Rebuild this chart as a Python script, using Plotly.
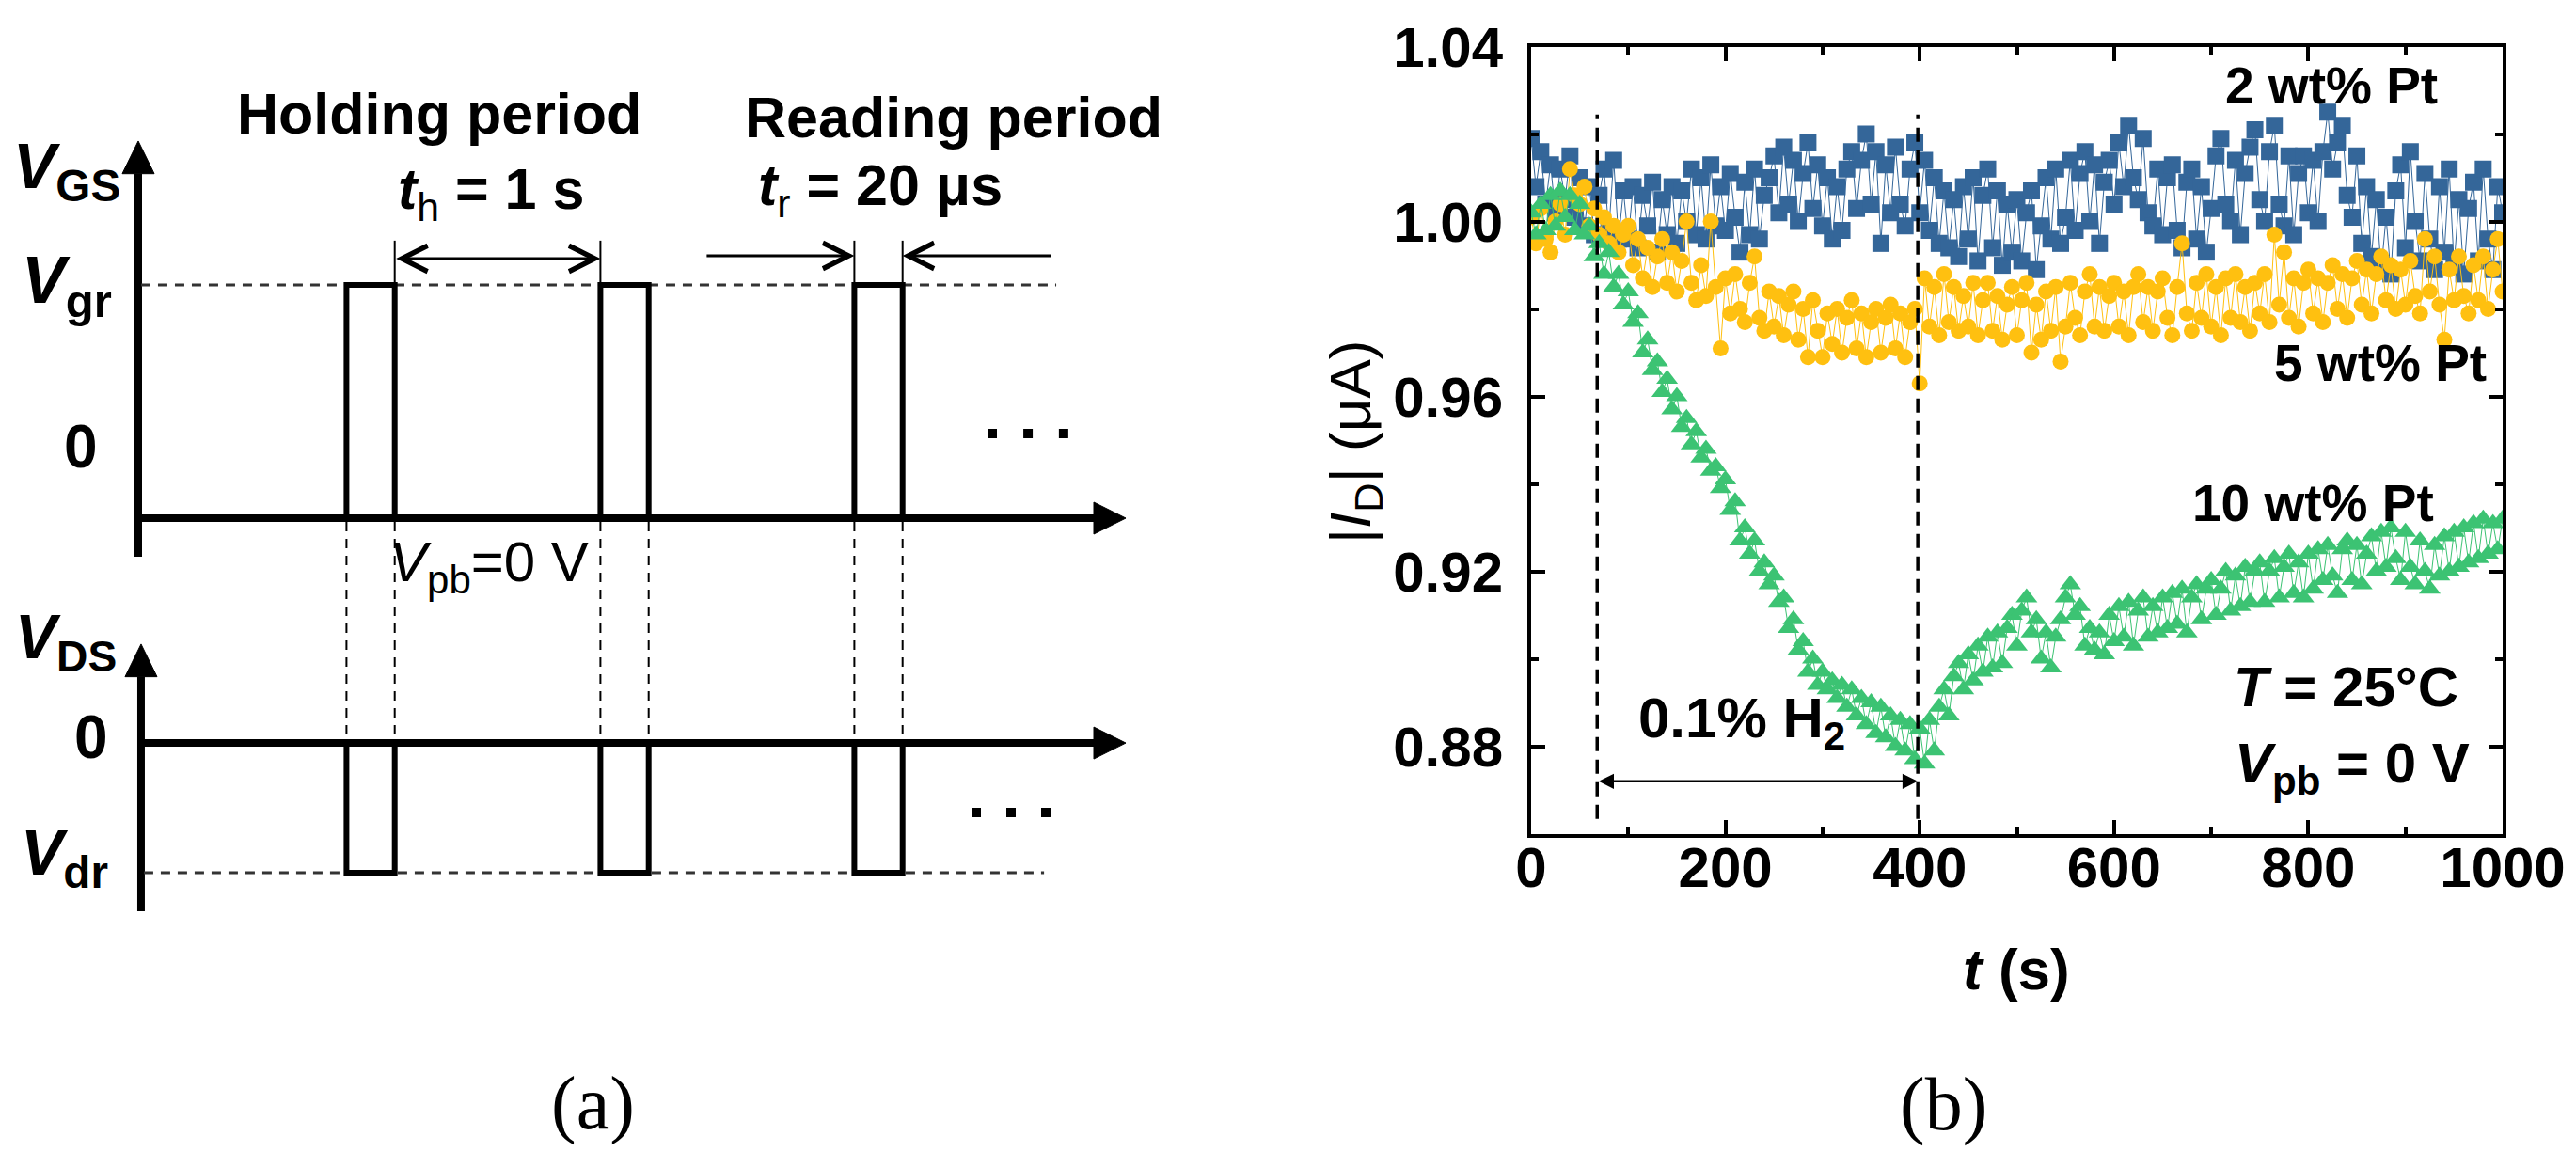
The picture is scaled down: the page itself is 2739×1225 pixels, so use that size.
import plotly.graph_objects as go

# ---------------- Panel (b) data ----------------
T_S = list(range(0, 1001, 5))  # time (s)

ID_2WT = [
    1.019, 1.008, 1.016, 1.004, 1.013, 1.002, 1.012, 1.005, 1.015, 1.001,
    1.010, 0.999, 1.008, 0.997, 1.006, 1.012, 0.998, 1.014, 0.996, 1.007,
    0.996, 1.008, 0.994, 1.006, 0.999, 1.009, 0.993, 1.005, 0.997, 1.008,
    0.995, 1.007, 1.000, 1.012, 0.997, 1.010, 0.996, 1.013, 0.999, 1.008,
    0.998, 1.011, 1.001, 0.993, 1.009, 0.997, 1.012, 0.996, 1.006, 1.010,
    1.015, 1.002, 1.017, 1.004, 1.014, 1.000, 1.011, 1.018, 1.003, 1.013,
    0.999, 1.010, 0.996, 1.008, 0.998, 1.012, 1.016, 1.003, 1.014, 1.020,
    1.004, 1.016, 0.995, 1.013, 1.002, 1.017, 1.004, 0.999, 1.012, 1.018,
    1.002, 1.014, 0.998, 1.010, 0.995, 1.007, 0.994, 1.005, 0.992, 1.008,
    0.996, 1.010, 0.991, 1.006, 1.012, 0.994, 1.007, 0.990, 1.004, 0.993,
    1.005, 0.991, 1.002, 1.007, 0.989, 0.999, 1.010, 0.996, 1.012, 0.995,
    1.001, 1.014, 0.998, 1.011, 1.016, 1.000, 1.013, 0.995, 1.009, 1.014,
    1.004, 1.018, 1.008, 1.022, 1.010, 1.005, 1.019, 1.002, 0.999, 1.012,
    0.997, 1.010, 1.013, 0.998, 0.994, 1.009, 1.012, 0.996, 1.008, 0.993,
    1.003, 1.015, 1.019, 1.004, 1.000, 1.014, 0.997, 1.011, 1.017, 1.021,
    1.005, 1.000, 1.016, 1.022, 1.004, 0.999, 1.015, 0.997, 1.011, 1.015,
    1.002, 1.014, 1.000, 1.016, 1.025, 1.012, 1.018, 1.022, 1.006, 1.001,
    1.015, 0.995, 1.008, 0.992, 1.005, 0.989, 1.001, 0.988, 1.007, 1.013,
    0.994, 1.016, 1.000, 0.991, 1.011, 0.996, 0.989, 1.008, 0.993, 1.012,
    0.990, 1.005, 0.988, 1.003, 1.009, 0.991, 1.012, 0.996, 0.989, 1.008,
    1.002,
]

ID_5WT = [
    1.001, 0.995, 1.003, 0.996, 0.993, 1.000, 1.004, 0.997, 1.012, 1.006,
    1.004, 1.008, 0.999, 1.003, 0.997, 1.001, 0.995, 0.999, 0.993, 0.997,
    0.999, 0.990, 0.996, 0.987, 0.994, 0.985, 0.992, 0.996, 0.986, 0.993,
    0.984, 0.991, 1.000, 0.986, 0.982, 0.990, 0.983, 1.000, 0.985, 0.971,
    0.987, 0.979, 0.988, 0.980, 0.977, 0.986, 0.992, 0.978, 0.975, 0.984,
    0.976, 0.983, 0.974, 0.981, 0.984, 0.973, 0.980, 0.969, 0.982, 0.975,
    0.969, 0.979, 0.972, 0.980, 0.970, 0.978, 0.982, 0.971, 0.979, 0.969,
    0.977, 0.980, 0.970, 0.978, 0.981, 0.971, 0.979, 0.969, 0.977, 0.980,
    0.963, 0.987, 0.976, 0.985, 0.974, 0.988, 0.977, 0.985, 0.975, 0.983,
    0.976, 0.986, 0.974, 0.982, 0.986, 0.975, 0.983, 0.973, 0.981, 0.985,
    0.974, 0.982, 0.986, 0.970, 0.981, 0.973, 0.984, 0.975, 0.985, 0.968,
    0.976, 0.986, 0.978, 0.974, 0.984, 0.988, 0.976, 0.985, 0.975, 0.983,
    0.986, 0.976, 0.984, 0.974, 0.985, 0.988, 0.977, 0.985, 0.975, 0.984,
    0.987, 0.978, 0.974, 0.985, 0.995, 0.979, 0.975, 0.986, 0.978, 0.988,
    0.976, 0.985, 0.974, 0.987, 0.978, 0.988, 0.977, 0.985, 0.975, 0.986,
    0.979, 0.988, 0.977, 0.997, 0.981, 0.993, 0.978, 0.987, 0.976, 0.986,
    0.989, 0.979, 0.987, 0.977, 0.986, 0.990, 0.980, 0.988, 0.978, 0.987,
    0.991, 0.981, 0.989, 0.979, 0.988, 0.992, 0.982, 0.990, 0.980, 0.989,
    0.981, 0.991, 0.983, 0.979, 0.996, 0.984, 0.992, 0.981, 0.973, 0.989,
    0.982, 0.992, 0.983, 0.979, 0.990, 0.982, 0.992, 0.980, 0.989, 0.996,
    0.984,
]

ID_10WT = [
    1.002, 0.997, 1.004, 0.998, 1.006, 0.999, 1.007, 1.001, 1.006, 0.998,
    1.004, 0.997, 0.999, 0.992, 0.995, 0.988, 0.993, 0.985, 0.988, 0.981,
    0.984, 0.977, 0.979, 0.970, 0.973, 0.966, 0.968, 0.961, 0.964, 0.957,
    0.960, 0.953, 0.955, 0.949, 0.952, 0.946, 0.948, 0.943, 0.944, 0.939,
    0.941, 0.934, 0.936, 0.927, 0.930, 0.924, 0.927, 0.920, 0.922, 0.917,
    0.919, 0.913, 0.914, 0.907, 0.909, 0.902, 0.904, 0.897, 0.900, 0.894,
    0.897, 0.893, 0.895, 0.891, 0.894, 0.889, 0.893, 0.887, 0.891, 0.885,
    0.890, 0.883, 0.889, 0.882, 0.887, 0.880, 0.886, 0.879, 0.885, 0.877,
    0.884, 0.876, 0.886, 0.879, 0.889, 0.893, 0.887, 0.896, 0.899, 0.893,
    0.901, 0.895, 0.903, 0.897, 0.905, 0.898, 0.906, 0.899, 0.907, 0.910,
    0.903, 0.911, 0.914, 0.906, 0.909, 0.900, 0.906, 0.898, 0.905, 0.909,
    0.914, 0.917, 0.910, 0.912, 0.903, 0.907, 0.902, 0.906, 0.901, 0.910,
    0.904, 0.912, 0.905, 0.913, 0.903, 0.911, 0.914, 0.905, 0.912, 0.906,
    0.914, 0.907, 0.915, 0.908, 0.916, 0.906, 0.914, 0.917, 0.909, 0.916,
    0.918, 0.910, 0.916, 0.920, 0.911, 0.919, 0.912, 0.921, 0.913, 0.920,
    0.922, 0.913, 0.920, 0.923, 0.914, 0.921, 0.924, 0.915, 0.922, 0.914,
    0.924, 0.916, 0.925, 0.918, 0.926, 0.919, 0.915, 0.925, 0.927, 0.918,
    0.926, 0.917, 0.924, 0.928, 0.920, 0.929, 0.921, 0.930, 0.923, 0.918,
    0.929, 0.921, 0.917, 0.927, 0.920, 0.916, 0.926, 0.919, 0.928, 0.920,
    0.929, 0.921, 0.930, 0.922, 0.931, 0.923, 0.932, 0.924, 0.931, 0.925,
    0.932,
]

SERIES_LABELS = ["2 wt% Pt", "5 wt% Pt", "10 wt% Pt"]
H2_ON_S = 68
H2_OFF_S = 398
H2_GUIDE_Y = [0.8634, 1.0245]
H2_ARROW_Y = 0.872
X_TICKS = [0, 200, 400, 600, 800, 1000]
Y_TICKS = [0.88, 0.92, 0.96, 1.00, 1.04]

# ---------------- Panel (a) schematic data (arbitrary units) ----------------
PULSE_T0 = [0.82, 1.82, 2.82]      # pulse start (period th = 1)
PULSE_W = 0.19                      # drawn pulse width
VGS_BASE, VGS_HIGH = 0.0, 1.0       # 0 and Vgr levels
VDS_BASE, VDS_LOW = -0.964, -1.52   # 0 and Vdr levels
VGS_AXIS_T, VDS_AXIS_T = 0.0, 0.011
VGS_AXIS_Y = [-0.165, 1.617]
VDS_AXIS_Y = [-1.685, -0.540]
TIME_AXIS_END = 3.889
VGR_DASH_T = [0.011, 3.615]
VDR_DASH_T = [0.022, 3.567]
UPPER_DOTS_T, UPPER_DOTS_Y = [3.363, 3.504, 3.644], 0.363
LOWER_DOTS_T, LOWER_DOTS_Y = [3.30, 3.437, 3.574], -1.262

FONT = "Liberation Sans, Arial, sans-serif"
SERIF = "Liberation Serif, Times New Roman, serif"
BLUE, YELLOW, GREEN = "#346699", "#FFC010", "#3CC373"

W, H = 2739, 1225
fig = go.Figure()

# ---------- panel (b) traces ----------
for vals, color, sym, size in [
    (ID_2WT, BLUE, "square", 18),
    (ID_5WT, YELLOW, "circle", 17),
    (ID_10WT, GREEN, "triangle-up", 20),
]:
    fig.add_trace(go.Scatter(
        x=T_S, y=vals, mode="lines+markers",
        line=dict(color=color, width=1),
        marker=dict(symbol=sym, size=size, color=color, line=dict(width=0)),
        xaxis="x", yaxis="y", showlegend=False, hoverinfo="skip"))

for tx in (H2_ON_S, H2_OFF_S):
    fig.add_trace(go.Scatter(
        x=[tx, tx], y=H2_GUIDE_Y, mode="lines",
        line=dict(color="black", width=3.5, dash="15px,9px"),
        xaxis="x", yaxis="y", showlegend=False, hoverinfo="skip"))

# ---------- panel (a) traces ----------
def seg(x, y, width, dash=None, color="black"):
    fig.add_trace(go.Scatter(
        x=x, y=y, mode="lines",
        line=dict(color=color, width=width, dash=dash),
        xaxis="x2", yaxis="y2", showlegend=False, hoverinfo="skip"))

def tri(x, y):
    fig.add_trace(go.Scatter(
        x=x, y=y, mode="lines", fill="toself", fillcolor="black",
        line=dict(color="black", width=1),
        xaxis="x2", yaxis="y2", showlegend=False, hoverinfo="skip"))

HEAD_T, HEAD_V = 0.063, 0.0685   # arrowhead half widths
HEAD_LT, HEAD_LV = 0.126, 0.14    # arrowhead lengths

seg([VGS_AXIS_T, VGS_AXIS_T], [VGS_AXIS_Y[0], VGS_AXIS_Y[1] - HEAD_LV], 8)
tri([VGS_AXIS_T - HEAD_T, VGS_AXIS_T + HEAD_T, VGS_AXIS_T, VGS_AXIS_T - HEAD_T],
    [VGS_AXIS_Y[1] - HEAD_LV, VGS_AXIS_Y[1] - HEAD_LV, VGS_AXIS_Y[1], VGS_AXIS_Y[1] - HEAD_LV])
seg([VGS_AXIS_T, TIME_AXIS_END - HEAD_LT], [VGS_BASE, VGS_BASE], 8)
tri([TIME_AXIS_END - HEAD_LT, TIME_AXIS_END - HEAD_LT, TIME_AXIS_END, TIME_AXIS_END - HEAD_LT],
    [VGS_BASE - HEAD_V, VGS_BASE + HEAD_V, VGS_BASE, VGS_BASE - HEAD_V])
seg([VDS_AXIS_T, VDS_AXIS_T], [VDS_AXIS_Y[0], VDS_AXIS_Y[1] - HEAD_LV], 8)
tri([VDS_AXIS_T - HEAD_T, VDS_AXIS_T + HEAD_T, VDS_AXIS_T, VDS_AXIS_T - HEAD_T],
    [VDS_AXIS_Y[1] - HEAD_LV, VDS_AXIS_Y[1] - HEAD_LV, VDS_AXIS_Y[1], VDS_AXIS_Y[1] - HEAD_LV])
seg([VDS_AXIS_T, TIME_AXIS_END - HEAD_LT], [VDS_BASE, VDS_BASE], 8)
tri([TIME_AXIS_END - HEAD_LT, TIME_AXIS_END - HEAD_LT, TIME_AXIS_END, TIME_AXIS_END - HEAD_LT],
    [VDS_BASE - HEAD_V, VDS_BASE + HEAD_V, VDS_BASE, VDS_BASE - HEAD_V])

seg(VGR_DASH_T, [VGS_HIGH, VGS_HIGH], 3, dash="10px,8px", color="#333333")
seg(VDR_DASH_T, [VDS_LOW, VDS_LOW], 3, dash="10px,8px", color="#333333")

for p in PULSE_T0:
    seg([p, p, p + PULSE_W, p + PULSE_W], [VGS_BASE, VGS_HIGH, VGS_HIGH, VGS_BASE], 6)
    seg([p, p, p + PULSE_W, p + PULSE_W], [VDS_BASE, VDS_LOW, VDS_LOW, VDS_BASE], 6)
    for e in (p, p + PULSE_W):
        seg([e, e], [VGS_BASE - 0.016, VDS_BASE], 2, dash="10px,8px")

for e in (PULSE_T0[0] + PULSE_W, PULSE_T0[1], PULSE_T0[2], PULSE_T0[2] + PULSE_W):
    seg([e, e], [VGS_HIGH, 1.19], 2)

for dt, dy in ((UPPER_DOTS_T, UPPER_DOTS_Y), (LOWER_DOTS_T, LOWER_DOTS_Y)):
    fig.add_trace(go.Scatter(
        x=dt, y=[dy] * len(dt), mode="markers",
        marker=dict(symbol="square", size=10, color="black"),
        xaxis="x2", yaxis="y2", showlegend=False, hoverinfo="skip"))

# ---------- annotations ----------
def ann(text, x, y, size, xref="x2", yref="y2", family=FONT, angle=0,
        xanchor="center", yanchor="middle"):
    fig.add_annotation(text=text, x=x, y=y, xref=xref, yref=yref,
                       showarrow=False, textangle=angle,
                       xanchor=xanchor, yanchor=yanchor,
                       font=dict(family=family, size=size, color="black"))

def arrow(x, y, ax, ay, xref, yref, head, width, size, both=False):
    fig.add_annotation(x=x, y=y, ax=ax, ay=ay, xref=xref, yref=yref,
                       axref=xref, ayref=yref, text="", showarrow=True,
                       arrowhead=head, startarrowhead=head,
                       arrowside="end+start" if both else "end",
                       arrowwidth=width, arrowsize=size, arrowcolor="black",
                       standoff=0, startstandoff=0)

arrow(PULSE_T0[1], 1.113, PULSE_T0[0] + PULSE_W, 1.113, "x2", "y2", 5, 3, 1.8, both=True)
arrow(PULSE_T0[2], 1.125, 2.233, 1.125, "x2", "y2", 5, 3, 1.8)
arrow(PULSE_T0[2] + PULSE_W, 1.125, 3.6, 1.125, "x2", "y2", 5, 3, 1.8)
arrow(H2_OFF_S, H2_ARROW_Y, H2_ON_S, H2_ARROW_Y, "x", "y", 2, 2.5, 1.3, both=True)

# panel (a) text
ann("<b>Holding period</b>", 1.185, 1.734, 61)
ann("<b>Reading period</b>", 3.211, 1.717, 61)
ann("<b><i>t</i></b><sub>h</sub><b> = 1 s</b>", 1.389, 1.395, 61)
ann("<b><i>t</i></b><sub>r</sub><b> = 20 μs</b>", 2.922, 1.41, 61)
ann("<b><i>V</i><sub>GS</sub></b>", -0.063, 1.49, 68, xanchor="right")
ann("<b><i>V</i><sub>gr</sub></b>", -0.096, 1.0, 70, xanchor="right")
ann("<b>0</b>", -0.226, 0.308, 64)
ann("<b><i>V</i><sub>DS</sub></b>", -0.078, -0.53, 66, xanchor="right")
ann("<b>0</b>", -0.185, -0.938, 64)
ann("<b><i>V</i><sub>dr</sub></b>", -0.111, -1.45, 68, xanchor="right")
ann("<i>V</i><sub>pb</sub>=0 V", 1.381, -0.205, 60)
ann("(a)", 1.789, -2.512, 80, family=SERIF)

# panel (b) text
ann("<b>" + SERIES_LABELS[0] + "</b>", 824, 1.0311, 55, "x", "y")
ann("<b>" + SERIES_LABELS[1] + "</b>", 874, 0.9677, 55, "x", "y")
ann("<b>" + SERIES_LABELS[2] + "</b>", 805, 0.9356, 55, "x", "y")
ann("<b>0.1% H</b><sub><b>2</b></sub>", 217, 0.8855, 60, "x", "y")
ann("<b><i>T</i> = 25°C</b>", 839, 0.8935, 60, "x", "y")
ann("<b><i>V</i><sub>pb</sub> = 0 V</b>", 845, 0.8751, 60, "x", "y")
ann("|<i>I</i><sub>D</sub>| (μA)", 1432 / W, 1 - 462 / H, 62, "paper", "paper", angle=-90)
ann("<b><i>t</i> (s)</b>", 2136 / W, 1 - 1022 / H, 62, "paper", "paper")
ann("(b)", 2058 / W, 1 - 1166 / H, 80, "paper", "paper", family=SERIF)

axis_common = dict(showgrid=False, zeroline=False, showline=True, linecolor="black",
                   linewidth=4, mirror="allticks", ticks="inside", tickwidth=4,
                   ticklen=15, tickcolor="black", automargin=False,
                   tickfont=dict(family=FONT, size=60, color="black", weight="bold"))

layout_kw = dict(
    template="none",
    width=W, height=H,
    margin=dict(l=0, r=0, t=0, b=0, pad=0),
    paper_bgcolor="white", plot_bgcolor="white",
    xaxis=dict(domain=[1620 / W, 2653 / W], range=[0, 1000],
               tickvals=X_TICKS, ticklabelstandoff=-20,
               minor=dict(ticks="inside", ticklen=8, tickwidth=4, dtick=100,
                          tickcolor="black", showgrid=False),
               anchor="y", **axis_common),
    yaxis=dict(domain=[1 - 878.6 / H, 1 - 41.6 / H], range=[0.86, 1.04],
               tickvals=Y_TICKS, tickformat=".2f", ticklabelstandoff=14,
               minor=dict(ticks="inside", ticklen=8, tickwidth=4, dtick=0.02,
                          tickcolor="black", showgrid=False),
               anchor="x", **axis_common),
    xaxis2=dict(domain=[0, 1200 / W], range=[-139 / 270, 1061 / 270],
                visible=False, anchor="y2", automargin=False),
    yaxis2=dict(domain=[0, 1], range=[-682 / 248, 543 / 248],
                visible=False, anchor="x2", automargin=False),
)
try:
    fig.update_layout(**layout_kw)
except ValueError:
    layout_kw["xaxis"]["ticklabelstandoff"] = 0
    fig.update_layout(**layout_kw)

fig.write_html("out.html")
